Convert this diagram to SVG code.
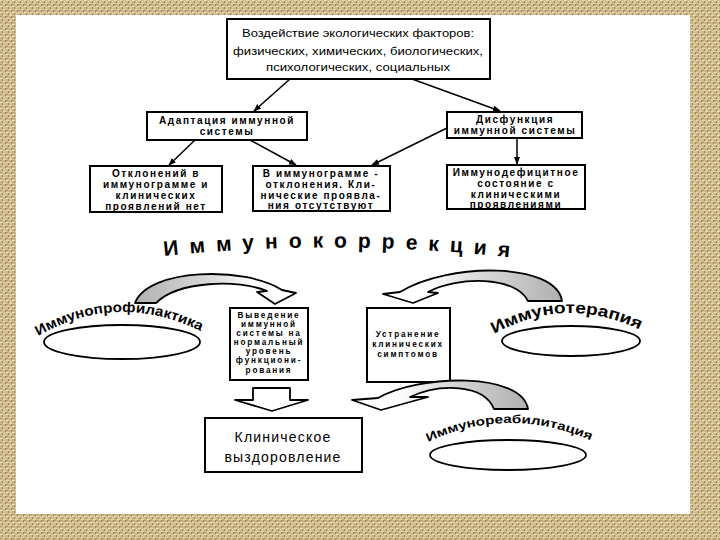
<svg xmlns="http://www.w3.org/2000/svg" width="720" height="540" viewBox="0 0 720 540">
<defs>
<pattern id="burlap" width="6" height="6" patternUnits="userSpaceOnUse">
<rect width="6" height="6" fill="#cdb98a"/>
<rect x="0" y="0" width="3" height="1" fill="#e8dcb8"/>
<rect x="3" y="3" width="3" height="1" fill="#e8dcb8"/>
<rect x="2" y="1" width="1" height="2" fill="#9c8756"/>
<rect x="5" y="4" width="1" height="2" fill="#9c8756"/>
<rect x="0" y="4" width="2" height="1" fill="#b5a06c"/>
<rect x="4" y="1" width="1" height="1" fill="#f2e9cc"/>
</pattern>
<linearGradient id="gL" x1="0" y1="0" x2="1" y2="0">
<stop offset="0" stop-color="#b0b0b0"/>
<stop offset="0.45" stop-color="#d8d8d8"/>
<stop offset="0.75" stop-color="#ffffff"/>
</linearGradient>
<linearGradient id="gR" x1="1" y1="0" x2="0" y2="0">
<stop offset="0" stop-color="#b0b0b0"/>
<stop offset="0.45" stop-color="#d8d8d8"/>
<stop offset="0.75" stop-color="#ffffff"/>
</linearGradient>
<marker id="ah" markerWidth="8" markerHeight="8" refX="7" refY="4" orient="auto" markerUnits="userSpaceOnUse">
<path d="M0,1 L8,4 L0,7 Z" fill="#000"/>
</marker>
<path id="arcTitle" d="M164,256 Q338,238 516,258"/>
<path id="arcProf" d="M38,336 Q122,288 210,336"/>
<path id="arcTer" d="M494,334 Q570,292 648,334"/>
<path id="arcReab" d="M428,442 Q510,404 594,442"/>
</defs>
<style>
.box{fill:#fff;stroke:#000;stroke-width:2}
.ell{fill:#fff;stroke:#000;stroke-width:1.8}
.top{font-family:"Liberation Sans",Arial,sans-serif;font-size:11.5px;text-anchor:middle;fill:#000}
.bt{font-family:"Liberation Sans",Arial,sans-serif;font-size:10px;font-weight:bold;letter-spacing:1.6px;text-anchor:middle;fill:#000}
.sm{font-family:"Liberation Sans",Arial,sans-serif;font-size:8.2px;font-weight:bold;letter-spacing:1.8px;text-anchor:middle;fill:#000}
.big{font-family:"Liberation Sans",Arial,sans-serif;font-size:14px;letter-spacing:1.2px;text-anchor:middle;fill:#000}
.arc{font-family:"Liberation Sans",Arial,sans-serif;font-weight:900;fill:#000}
.conn{stroke:#000;stroke-width:1.5;fill:none}
.carrow{stroke:#000;stroke-width:1.8;stroke-linejoin:round}
</style>
<rect width="720" height="540" fill="url(#burlap)"/>
<rect x="16" y="15" width="674" height="499" fill="#fff"/>

<g id="connectors">
<line class="conn" x1="290" y1="79" x2="254" y2="111" marker-end="url(#ah)"/>
<line class="conn" x1="412" y1="79" x2="500" y2="111" marker-end="url(#ah)"/>
<line class="conn" x1="195" y1="140" x2="169" y2="165" marker-end="url(#ah)"/>
<line class="conn" x1="250" y1="140" x2="296" y2="165" marker-end="url(#ah)"/>
<line class="conn" x1="447" y1="128" x2="372" y2="165" marker-end="url(#ah)"/>
<line class="conn" x1="517" y1="138" x2="517" y2="164" marker-end="url(#ah)"/>
</g>

<g id="n-top">
<rect class="box" x="227" y="19" width="263" height="60"/>
<text class="top" x="358" y="37" textLength="232" lengthAdjust="spacingAndGlyphs">Воздействие экологических факторов:</text>
<text class="top" x="358" y="55" textLength="250" lengthAdjust="spacingAndGlyphs">физических, химических, биологических,</text>
<text class="top" x="358" y="71" textLength="184" lengthAdjust="spacingAndGlyphs">психологических, социальных</text>
</g>

<g id="n-adapt">
<rect class="box" x="147" y="112" width="160" height="28"/>
<text class="bt" x="227" y="124">Адаптация иммунной</text>
<text class="bt" x="227" y="135">системы</text>
</g>

<g id="n-dysf">
<rect class="box" x="447" y="112" width="135" height="26"/>
<text class="bt" x="515" y="123">Дисфункция</text>
<text class="bt" x="515" y="134" letter-spacing="1.2">иммунной системы</text>
</g>

<g id="n-otkl">
<rect class="box" x="90" y="166" width="132" height="46"/>
<text class="bt" x="156" y="177">Отклонений в</text>
<text class="bt" x="156" y="188">иммунограмме и</text>
<text class="bt" x="156" y="199">клинических</text>
<text class="bt" x="156" y="210">проявлений нет</text>
</g>

<g id="n-vimm">
<rect class="box" x="253" y="166" width="137" height="45"/>
<text class="bt" x="321" y="177">В иммунограмме -</text>
<text class="bt" x="321" y="188">отклонения. Кли-</text>
<text class="bt" x="321" y="199" letter-spacing="1.2">нические проявла-</text>
<text class="bt" x="321" y="209">ния отсутствуют</text>
</g>

<g id="n-idef">
<rect class="box" x="447" y="165" width="138" height="44"/>
<text class="bt" x="516" y="176" letter-spacing="1.3">Иммунодефицитное</text>
<text class="bt" x="516" y="187">состояние с</text>
<text class="bt" x="516" y="198">клиническими</text>
<text class="bt" x="516" y="208">проявлениями</text>
</g>

<g id="title">
<text class="arc" font-size="21"><textPath href="#arcTitle" startOffset="0" textLength="346" lengthAdjust="spacing">Иммунокоррекция</textPath></text>
</g>

<g id="n-prof">
<path class="carrow" fill="url(#gL)" d="M135,303 C148,268 245,266 282,290 L296,293 L275,304 L257,292 L267,291 C238,279 178,281 156,303 Z"/>
<ellipse class="ell" cx="122" cy="342" rx="78" ry="17"/>
<text class="arc" font-size="14"><textPath href="#arcProf" startOffset="0" textLength="170" lengthAdjust="spacingAndGlyphs">Иммунопрофилактика</textPath></text>
</g>

<g id="n-vyved">
<rect class="box" x="230" y="308" width="78" height="72"/>
<text class="sm" x="269" y="318">Выведение</text>
<text class="sm" x="269" y="327">иммунной</text>
<text class="sm" x="269" y="336">системы на</text>
<text class="sm" x="269" y="345" letter-spacing="1.2">нормальный</text>
<text class="sm" x="269" y="354">уровень</text>
<text class="sm" x="269" y="363" letter-spacing="1.2">функциони-</text>
<text class="sm" x="269" y="373">рования</text>
</g>

<g id="n-ustr">
<rect class="box" x="367" y="308" width="83" height="74"/>
<text class="sm" x="408" y="337">Устранение</text>
<text class="sm" x="408" y="347" letter-spacing="1.3">клинических</text>
<text class="sm" x="408" y="357">симптомов</text>
</g>

<g id="n-ter">
<path class="carrow" fill="url(#gR)" d="M562,301 C556,262 448,262 400,292 L383,294 L413,303 L438,293 L428,292 C458,276 516,276 528,301 Z"/>
<ellipse class="ell" cx="571" cy="341" rx="69" ry="15"/>
<text class="arc" font-size="16"><textPath href="#arcTer" startOffset="0" textLength="152" lengthAdjust="spacingAndGlyphs">Иммунотерапия</textPath></text>
</g>

<g id="n-down">
<path class="carrow" fill="#fff" d="M253,388 L290,388 L290,400 L308,400 L272,411 L235,400 L253,400 Z"/>
</g>

<g id="n-reab">
<path class="carrow" fill="url(#gR)" d="M528,409 C522,372 420,374 378,398 L352,400 L381,410 L428,397 L410,397 C440,383 484,384 494,409 Z"/>
<ellipse class="ell" cx="508" cy="455" rx="78" ry="15"/>
<text class="arc" font-size="12"><textPath href="#arcReab" startOffset="0" textLength="168" lengthAdjust="spacingAndGlyphs">Иммунореабилитация</textPath></text>
</g>

<g id="n-klin">
<rect class="box" x="205" y="418" width="157" height="54"/>
<text class="big" x="283" y="442">Клиническое</text>
<text class="big" x="283" y="462">выздоровление</text>
</g>
</svg>
